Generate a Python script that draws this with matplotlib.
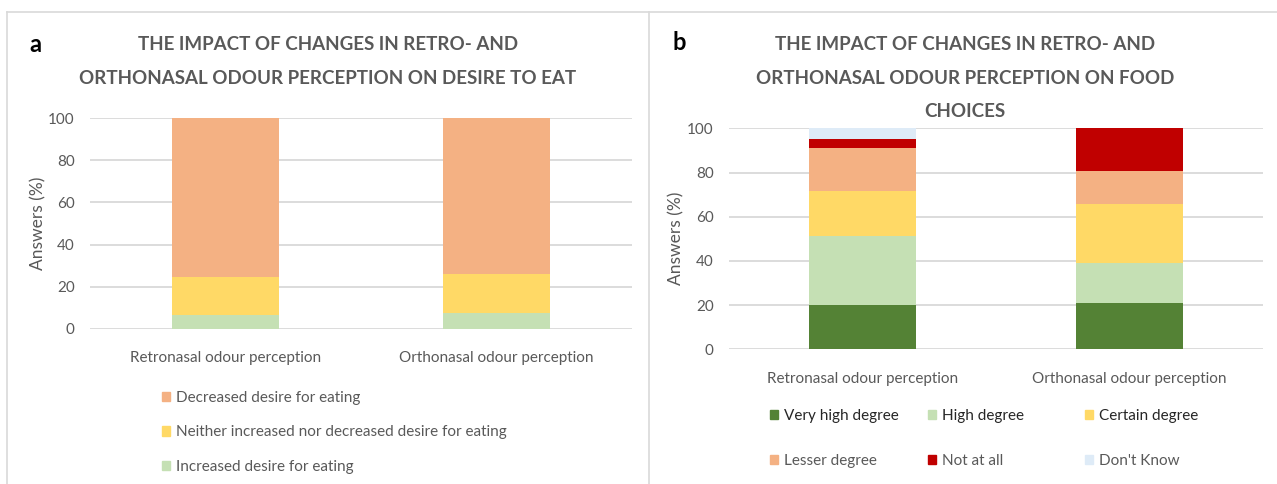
import numpy as np
import matplotlib
matplotlib.use('Agg')
import matplotlib.pyplot as plt
from matplotlib.patches import Patch
from matplotlib.lines import Line2D

plt.rcParams['font.family'] = ['Lato', 'DejaVu Sans']

# data
cats = ['Retronasal odour perception', 'Orthonasal odour perception']

a_labels = ['Increased desire for eating',
            'Neither increased nor decreased desire for eating',
            'Decreased desire for eating']
a_vals = [[6.6, 7.6],
          [18.0, 18.5],
          [75.4, 73.9]]
a_colors = ['#C5E0B4', '#FFD966', '#F4B183']

b_labels = ['Very high degree', 'High degree', 'Certain degree',
            'Lesser degree', 'Not at all', "Don't Know"]
b_vals = [[20.2, 21.1],
          [31.1, 18.0],
          [20.5, 26.7],
          [19.3, 14.7],
          [4.2, 19.5],
          [4.7, 0.0]]
b_colors = ['#548235', '#C5E0B4', '#FFD966', '#F4B183', '#C00000', '#DEEBF7']

W, H = 1277, 484
fig = plt.figure(figsize=(W / 100, H / 100), dpi=100)
grey = '#595959'


def px_axes(x0, y0, x1, y1):
    return fig.add_axes([x0 / W, 1 - y1 / H, (x1 - x0) / W, (y1 - y0) / H])


def style(ax):
    ax.set_ylim(0, 100)
    ax.set_xlim(-0.5, 1.5)
    ax.set_yticks(range(0, 101, 20))
    ax.yaxis.grid(True, color='#D9D9D9', linewidth=1.3)
    ax.set_axisbelow(True)
    for s in ax.spines.values():
        s.set_visible(False)
    ax.tick_params(length=0, colors=grey, labelsize=11)
    ax.tick_params(axis='y', pad=11)
    ax.tick_params(axis='x', pad=16)
    ax.set_ylabel('Answers (%)', color=grey, fontsize=12.5)


# panel a
ax1 = px_axes(90, 118, 632, 329)
x = np.arange(len(cats))
bottom = np.zeros(len(cats))
for lab, v, c in zip(a_labels, a_vals, a_colors):
    ax1.bar(x, v, 0.395, bottom=bottom, color=c, label=lab)
    bottom += np.array(v)
ax1.set_xticks(x)
ax1.set_xticklabels(cats)
style(ax1)
ax1.yaxis.set_label_coords(-0.081, 0.5)

h1 = [Patch(color=c) for c in a_colors][::-1]
fig.legend(h1, a_labels[::-1], loc='upper left', bbox_to_anchor=(148 / W, 1 - 377 / H),
           frameon=False, fontsize=11, labelcolor=grey, handlelength=0.55, handleheight=0.55,
           handletextpad=0.4, labelspacing=1.35)

# panel b
ax2 = px_axes(729, 128.3, 1263, 349.3)
bottom = np.zeros(len(cats))
for lab, v, c in zip(b_labels, b_vals, b_colors):
    ax2.bar(x, v, 0.4, bottom=bottom, color=c, label=lab)
    bottom += np.array(v)
ax2.set_xticks(x)
ax2.set_xticklabels(cats)
style(ax2)
ax2.yaxis.set_label_coords(-0.084, 0.5)

# three legend columns of equal width, like the Excel legend
for k, x0 in enumerate([756, 914, 1071]):
    idx = [k, k + 3]
    leg = fig.legend([Patch(color=b_colors[i]) for i in idx], [b_labels[i] for i in idx],
                     loc='upper left', bbox_to_anchor=(x0 / W, 1 - 395 / H),
                     frameon=False, fontsize=11, handlelength=0.55, handleheight=0.55,
                     handletextpad=0.4, labelspacing=2.05)
    leg.get_texts()[0].set_color('#262626')
    leg.get_texts()[1].set_color(grey)

# titles
fig.text(328 / W, 1 - 61.5 / H, 'THE IMPACT OF CHANGES IN RETRO- AND\nORTHONASAL ODOUR PERCEPTION ON DESIRE TO EAT',
         ha='center', va='center', fontsize=13.5, fontweight='bold', color=grey, linespacing=2.2)
fig.text(965 / W, 1 - 78 / H, 'THE IMPACT OF CHANGES IN RETRO- AND\nORTHONASAL ODOUR PERCEPTION ON FOOD\nCHOICES',
         ha='center', va='center', fontsize=13.5, fontweight='bold', color=grey, linespacing=2.2)
fig.text(35 / W, 1 - 45 / H, 'a', ha='center', va='center', fontsize=17, fontweight='bold', color='black')
fig.text(679 / W, 1 - 43 / H, 'b', ha='center', va='center', fontsize=17, fontweight='bold', color='black')

# panel frames
bc = '#D9D9D9'
fig.add_artist(Line2D([7 / W, 1], [1 - 12 / H, 1 - 12 / H], color=bc, lw=1.2))
fig.add_artist(Line2D([7 / W, 7 / W], [0, 1 - 12 / H], color=bc, lw=1.2))
fig.add_artist(Line2D([649 / W, 649 / W], [0, 1 - 12 / H], color=bc, lw=1.2))

fig.savefig('out.png', dpi=100)
